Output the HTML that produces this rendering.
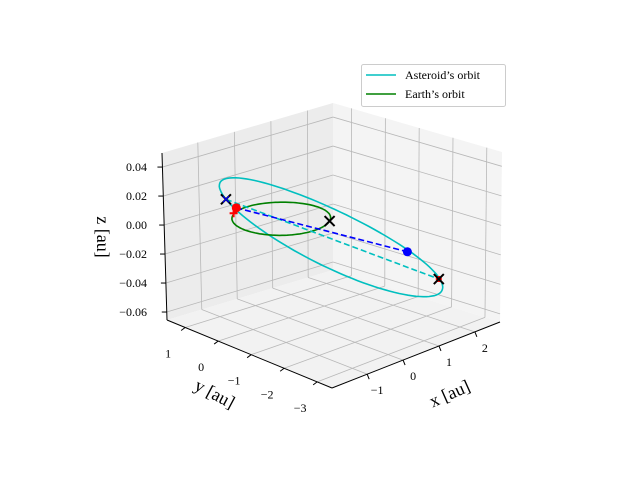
<!DOCTYPE html>
<html><head><meta charset="utf-8"><style>
body{margin:0;background:#fff}
svg{display:block;font-family:"Liberation Serif",serif}
</style></head><body>
<svg id="chart" width="640" height="480" viewBox="0 0 640 480">
<g id="panes"></g>
<g id="grid"></g>
<g id="axes"></g>
<g id="series"></g>
<g>
<rect x="361.5" y="64.5" width="144" height="42" rx="2" fill="#fff" stroke="#ccc"/>
<line x1="366" y1="75" x2="396" y2="75" stroke="#00bfbf" stroke-width="1.6"/>
<text x="405" y="79" font-size="12">Asteroid’s orbit</text>
<line x1="366" y1="94" x2="396" y2="94" stroke="#008000" stroke-width="1.6"/>
<text x="405" y="98" font-size="12">Earth’s orbit</text>
</g>
</svg>
<script>
const xTicks=[-1,0,1,2];
const yTicks=[1,0,-1,-2,-3];
const zTicks=[-0.06,-0.04,-0.02,0.00,0.02,0.04];
const zTickLabels=["−0.06","−0.04","−0.02","0.00","0.02","0.04"];
const xTickLabels=["−1","0","1","2"];
const yTickLabels=["1","0","−1","−2","−3"];
const xLim=[-1.98,2.70];
const yLim=[-3.45,1.55];
const zLim=[-0.0655,0.0497];
const earthRadius=[1.0];
const earthCenter=[-0.12,0.06,0.003];
const asteroidCenter=[0.64,-0.62,-0.011];
const asteroidMajor=[1.6,-1.6,-0.036];
const asteroidMinor=[1.25,1.25,0.0];
const markerBlueX=[-1.1,0.64,0.019];
const markerEarth=[-0.82,0.64,0.011];
const markerRedPlus=[-1.08,0.44,0.011];
const markerBlackX=[0.52,-0.69,0.002];
const markerBlueDot=[1.7,-1.74,-0.021];
const markerRedX=[2.14,-2.21,-0.04];

const NS="http://www.w3.org/2000/svg";
const F=[332,388],R=[500,322],L=[167,320],B=[333,270];
const FT=[332,216],RT=[502,152],LT=[162,153],BT=[333,103];
function bil(a,b,c,d,u,s){
  return [a[0]*(1-u)*(1-s)+b[0]*u*(1-s)+c[0]*(1-u)*s+d[0]*u*s,
          a[1]*(1-u)*(1-s)+b[1]*u*(1-s)+c[1]*(1-u)*s+d[1]*u*s];}
function P(x,y,z){
  const u=(x-xLim[0])/(xLim[1]-xLim[0]);
  const s=(y-yLim[0])/(yLim[1]-yLim[0]);
  const w=(z-zLim[0])/(zLim[1]-zLim[0]);
  const lo=bil(F,R,L,B,u,s),hi=bil(FT,RT,LT,BT,u,s);
  return [lo[0]+(hi[0]-lo[0])*w,lo[1]+(hi[1]-lo[1])*w];}
function mk(tag,attrs,parent){const e=document.createElementNS(NS,tag);for(const k in attrs)e.setAttribute(k,attrs[k]);parent.appendChild(e);return e;}
function pts(arr){return arr.map(p=>p[0].toFixed(1)+","+p[1].toFixed(1)).join(" ");}
const panes=document.getElementById('panes'),grid=document.getElementById('grid'),axes=document.getElementById('axes'),series=document.getElementById('series');
const x0=xLim[0],x1=xLim[1],y0=yLim[0],y1=yLim[1],z0=zLim[0],z1=zLim[1];
let e;
e=mk('polygon',{points:pts([P(x0,y1,z0),P(x1,y1,z0),P(x1,y1,z1),P(x0,y1,z1)]),fill:'#ececec'},panes);


e=mk('polygon',{points:pts([P(x1,y0,z0),P(x1,y1,z0),P(x1,y1,z1),P(x1,y0,z1)]),fill:'#f4f4f4'},panes);


e=mk('polygon',{points:pts([P(x0,y0,z0),P(x1,y0,z0),P(x1,y1,z0),P(x0,y1,z0)]),fill:'#f2f2f2'},panes);


function gl(a,b,name){const l=mk('line',{x1:a[0],y1:a[1],x2:b[0],y2:b[1],stroke:'#b8b8b8','stroke-width':0.8},grid);

}
xTicks.forEach(x=>{gl(P(x,y0,z0),P(x,y1,z0),'grid-x-floor');gl(P(x,y1,z0),P(x,y1,z1),'grid-x-wall');});
yTicks.forEach(y=>{gl(P(x0,y,z0),P(x1,y,z0),'grid-y-floor');gl(P(x1,y,z0),P(x1,y,z1),'grid-y-wall');});
zTicks.forEach(z=>{gl(P(x0,y1,z),P(x1,y1,z),'grid-z-left');gl(P(x1,y1,z),P(x1,y0,z),'grid-z-right');});
function al(a,b,name){const l=mk('line',{x1:a[0],y1:a[1],x2:b[0],y2:b[1],stroke:'#000','stroke-width':1},axes);

}
al(P(x0,y0,z0),P(x1,y0,z0),'x-axis-line');
al(P(x0,y1,z0),P(x0,y0,z0),'y-axis-line');
al(P(x0,y1,z0),P(x0,y1,z1),'z-axis-line');
function tx(x,y,str,name,anchor,size,rot){const t=mk('text',{x:x,y:y,'font-size':size,'text-anchor':anchor},axes);
if(rot)t.setAttribute('transform','rotate('+rot+' '+x+' '+y+')');t.textContent=str;

}
xTicks.forEach((x,i)=>{const p=P(x,y0,z0);al(p,[p[0]+2,p[1]+5],'x-tick');tx(p[0]+10,p[1]+20,xTickLabels[i],'x-tick-label','middle',12);});
yTicks.forEach((y,i)=>{const p=P(x0,y,z0);al(p,[p[0]-4,p[1]+3],'y-tick');tx(p[0]-17,p[1]+30,yTickLabels[i],'y-tick-label','middle',12);});
zTicks.forEach((z,i)=>{const p=P(x0,y1,z);al(p,[p[0]-5,p[1]],'z-tick');tx(147,p[1]+4,zTickLabels[i],'z-tick-label','end',12);});
tx(452,399,'x [au]','x-axis-title','middle',18,-24);
tx(212,399,'y [au]','y-axis-title','middle',18,28);
tx(97,237,'z [au]','z-axis-title','middle',18,90);
const earthPts=[],astPts=[];
for(let i=0;i<=120;i++){const t=i/120*2*Math.PI;
 earthPts.push(P(earthCenter[0]+earthRadius[0]*Math.cos(t),earthCenter[1]+earthRadius[0]*Math.sin(t),earthCenter[2]));
 const c=Math.cos(t),s=Math.sin(t);
 astPts.push(P(asteroidCenter[0]+asteroidMajor[0]*c+asteroidMinor[0]*s,asteroidCenter[1]+asteroidMajor[1]*c+asteroidMinor[1]*s,asteroidCenter[2]+asteroidMajor[2]*c+asteroidMinor[2]*s));}
e=mk('polyline',{points:pts(astPts),fill:'none',stroke:'#00bfbf','stroke-width':1.6},series);


e=mk('polyline',{points:pts(earthPts),fill:'none',stroke:'#008000','stroke-width':1.6},series);


let a=P(...markerBlueX),b=P(...markerRedX);
e=mk('line',{x1:a[0],y1:a[1],x2:b[0],y2:b[1],stroke:'#00bfbf','stroke-width':1.6,'stroke-dasharray':'6,3'},series);


a=P(...markerEarth);b=P(...markerBlueDot);
e=mk('line',{x1:a[0],y1:a[1],x2:b[0],y2:b[1],stroke:'#0000ff','stroke-width':1.6,'stroke-dasharray':'6,3'},series);


function xm(p,col,w,r,name){const g=mk('path',{d:`M${p[0]-r},${p[1]-r}L${p[0]+r},${p[1]+r}M${p[0]-r},${p[1]+r}L${p[0]+r},${p[1]-r}`,stroke:col,'stroke-width':w},series);

}
function dot(p,col,r,name){const g=mk('circle',{cx:p[0],cy:p[1],r:r,fill:col},series);

}
let p=P(...markerRedPlus);
e=mk('path',{d:`M${p[0]-4},${p[1]}L${p[0]+4},${p[1]}M${p[0]},${p[1]-4}L${p[0]},${p[1]+4}`,stroke:'#ff0000','stroke-width':2},series);


dot(P(...markerEarth),'#ff0000',4.5,'earth-position-marker');
xm(P(...markerBlueX),'#000',2,5,'black-x-start');
xm(P(...markerBlueX),'#0000ff',1.2,3,'blue-x-marker');
xm(P(...markerBlackX),'#000',2,5,'black-x-mid');
dot(P(...markerBlueDot),'#0000ff',4.5,'blue-dot-marker');
p=P(...markerRedX);
e=mk('path',{d:`M${p[0]-3},${p[1]}L${p[0]+3},${p[1]}M${p[0]},${p[1]-3}L${p[0]},${p[1]+3}`,stroke:'#ff0000','stroke-width':2.5},series);


xm(p,'#000',2,5,'black-x-end');
</script>
</body></html>
